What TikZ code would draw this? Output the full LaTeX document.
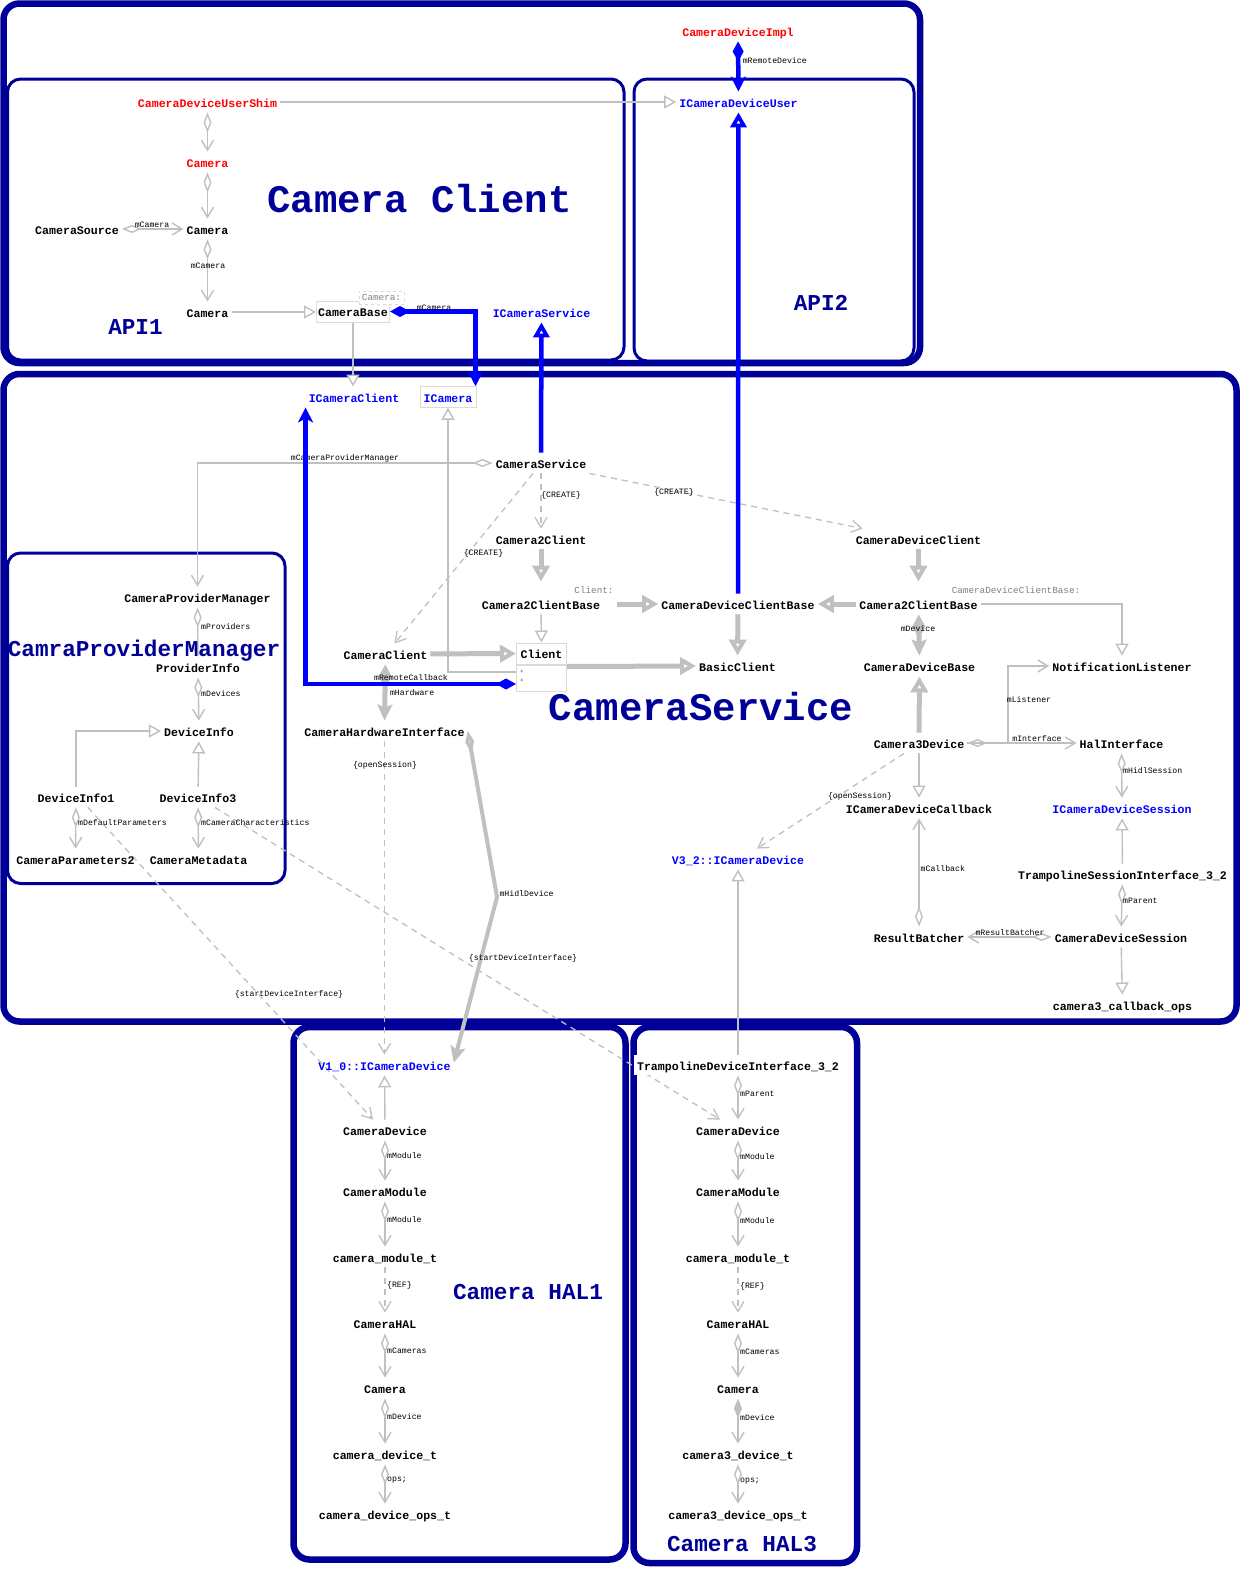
\documentclass[tikz,border=0pt]{standalone}
\usepackage{fontspec}
\newfontfamily\monof{Liberation Mono}
\usetikzlibrary{arrows.meta}
\definecolor{lg}{RGB}{192,192,192}
\definecolor{lbox}{RGB}{218,218,218}
\definecolor{db}{RGB}{0,0,153}
\definecolor{bl}{RGB}{0,0,255}
\definecolor{rd}{RGB}{255,0,0}
\definecolor{tgray}{RGB}{128,128,128}
\pgfdeclarelayer{bg}
\pgfdeclarelayer{edges}
\pgfsetlayers{bg,edges,main}
\tikzset{
  tinh/.tip={Triangle[open,length=12pt,width=13pt,fill=white]},
  tvee/.tip={Straight Barb[length=10pt,width=12pt]},
  todia/.tip={Diamond[open,length=20pt,width=8pt,fill=white]},
  tfdia/.tip={Diamond[length=20pt,width=8pt]},
  tbinh/.tip={Triangle[open,length=15pt,width=16pt,fill=white]},
  tbarr/.tip={Stealth[length=15pt,width=15pt,inset=4pt]},
  tbdia/.tip={Diamond[length=20pt,width=11pt]},
  tginh/.tip={Triangle[open,length=16pt,width=17pt,fill=white]},
  tgarr/.tip={Stealth[length=16pt,width=15pt,inset=3pt]},
  tgdia/.tip={Diamond[length=24pt,width=13pt]},
  tgodia/.tip={Diamond[open,length=22pt,width=9pt,fill=white]},
}
\begin{document}
\begin{tikzpicture}[x=1pt,y=-1pt,
  cls/.style={font=\monof\bfseries\fontsize{11.6}{12}\selectfont, inner xsep=3pt, inner ysep=5pt, text height=10.5pt, text depth=0pt},
  clsr/.style={cls, text=rd},
  clsb/.style={cls, text=bl},
  elbl/.style={font=\monof\fontsize{8.2}{8.2}\selectfont, inner sep=0.5pt, text=black},
  tmpl/.style={font=\monof\fontsize{9.3}{9.3}\selectfont, text=tgray, inner sep=1pt},
  ttlbig/.style={font=\monof\bfseries\fontsize{39}{39}\selectfont, text=db, anchor=base, inner sep=0pt},
  ttl/.style={font=\monof\bfseries\fontsize{22.7}{22.7}\selectfont, text=db, anchor=base, inner sep=0pt},
  contk/.style={draw=db, line width=6.5pt, rounded corners=16pt},
  contn/.style={draw=db, line width=3pt, rounded corners=13pt},
  gl/.style={draw=lg, line width=1.4pt},
  gk/.style={draw=lg, line width=5pt},
  gh/.style={draw=lg, line width=4pt},
  bk/.style={draw=bl, line width=4.5pt},
  gd/.style={draw=lg, line width=1.3pt, dash pattern=on 6pt off 5pt},
  boxed/.style={draw=lbox, line width=1pt, fill=white},
]
\useasboundingbox (0,0) rectangle (1243,1569);
\begin{pgfonlayer}{bg}
\fill[white] (0,0) rectangle (1243,1569);
\draw[contk] (3.5,3.5) rectangle (920,363);
\draw[contn] (7.5,79) rectangle (624,360);
\draw[contn] (634,79) rectangle (914,361);
\draw[contk] (3.5,374) rectangle (1236.5,1021.5);
\draw[contn] (7.5,553) rectangle (285,883.5);
\draw[contk] (293.5,1027) rectangle (625.5,1559.5);
\draw[contk] (633.5,1027) rectangle (857,1563);
\end{pgfonlayer}

% titles
\node[ttlbig] (tCC) at (419.5,212) {Camera Client};
\node[ttlbig] (tCS) at (701,720) {CameraService};
\node[ttl] (tCPM) at (144,656) {CamraProviderManager};
\node[ttl] (tA1) at (135.5,334) {API1};
\node[ttl] (tA2) at (821,310) {API2};
\node[ttl] (tH1) at (528,1299) {Camera HAL1};
\node[ttl] (tH3) at (742,1551) {Camera HAL3};

% nodes: top
\node[clsr] (cdi) at (738,31) {CameraDeviceImpl};
\node[clsb] (icdu) at (738.5,102) {ICameraDeviceUser};
\node[clsr] (shim) at (207.5,102) {CameraDeviceUserShim};
\node[clsr] (camR) at (207.5,162) {Camera};
\node[cls] (camsrc) at (77,229) {CameraSource};
\node[cls] (camA) at (207.5,229) {Camera};
\node[cls] (camB) at (207.5,312) {Camera};
\node[cls, boxed, minimum width=73pt, minimum height=21pt, inner xsep=1pt] (cbase) at (353,311.5) {CameraBase};
\node[tmpl, draw=lbox, dashed, fill=white, minimum width=45pt, minimum height=13pt] (cbaseT) at (381.5,297.5) {Camera:};
\node[clsb] (ics) at (541.5,312) {ICameraService};

% nodes: camera service
\node[clsb] (icc) at (354,397) {ICameraClient};
\node[clsb, boxed, minimum width=56pt, minimum height=20pt] (icam) at (448,397) {ICamera};
\node[cls] (csvc) at (541,463) {CameraService};
\node[cls] (c2c) at (541,539) {Camera2Client};
\node[cls] (cdc) at (918.5,539) {CameraDeviceClient};
\node[cls] (cpm) at (197.5,597) {CameraProviderManager};
\node[cls] (c2cbA) at (541,604) {Camera2ClientBase};
\node[tmpl] (clientT) at (594,590) {Client:};
\node[cls] (cdcb) at (738,604) {CameraDeviceClientBase};
\node[cls] (c2cbB) at (918.5,604) {Camera2ClientBase};
\node[tmpl] (cdcbT) at (1016,590) {CameraDeviceClientBase:};
\node[cls] (pinfo) at (198,667) {ProviderInfo};
\node[cls] (camcl) at (385.5,654) {CameraClient};
\node[cls, boxed, minimum width=50pt, minimum height=21pt] (clientH) at (541.5,653.5) {Client};
\node[boxed, minimum width=50pt, minimum height=26pt, anchor=north, inner sep=0pt] (clientC) at (clientH.south) {};
\node[font=\monof\fontsize{6}{6}\selectfont, text=black!70, inner sep=0pt] (plusA) at (522,672) {+};
\node[font=\monof\fontsize{6}{6}\selectfont, text=black!70, inner sep=0pt] (plusB) at (522,681) {+};
\node[cls] (basic) at (737.5,666) {BasicClient};
\node[cls] (cdbase) at (919.5,666) {CameraDeviceBase};
\node[cls] (notif) at (1122,666) {NotificationListener};
\node[cls] (dinfo) at (199,731) {DeviceInfo};
\node[cls] (chi) at (384.5,731) {CameraHardwareInterface};
\node[cls] (c3d) at (919,743) {Camera3Device};
\node[cls] (hal) at (1121.5,743) {HalInterface};
\node[cls] (di1) at (76,797) {DeviceInfo1};
\node[cls] (di3) at (198,797) {DeviceInfo3};
\node[cls] (icdcb) at (919,808) {ICameraDeviceCallback};
\node[clsb] (icds) at (1122,808) {ICameraDeviceSession};
\node[cls] (cp2) at (75.5,859) {CameraParameters2};
\node[cls] (cmeta) at (198.5,859) {CameraMetadata};
\node[clsb] (v32) at (738,859) {V3\_2::ICameraDevice};
\node[cls] (tsi) at (1122.5,874) {TrampolineSessionInterface\_3\_2};
\node[cls] (rb) at (919,937) {ResultBatcher};
\node[cls] (cds) at (1121,937) {CameraDeviceSession};
\node[cls] (c3cb) at (1122.5,1005) {camera3\_callback\_ops};

% HAL1
\node[clsb] (v10) at (384.5,1065) {V1\_0::ICameraDevice};
\node[cls] (h1dev) at (385,1130) {CameraDevice};
\node[cls] (h1mod) at (385,1191) {CameraModule};
\node[cls] (h1cmt) at (385,1257) {camera\_module\_t};
\node[cls] (h1hal) at (385,1323) {CameraHAL};
\node[cls] (h1cam) at (385,1388) {Camera};
\node[cls] (h1cdt) at (385,1454) {camera\_device\_t};
\node[cls] (h1ops) at (385,1514) {camera\_device\_ops\_t};

% HAL3
\node[cls, fill=white] (tdi) at (738,1065) {TrampolineDeviceInterface\_3\_2};
\node[cls] (h3dev) at (738,1130) {CameraDevice};
\node[cls] (h3mod) at (738,1191) {CameraModule};
\node[cls] (h3cmt) at (738,1257) {camera\_module\_t};
\node[cls] (h3hal) at (738,1323) {CameraHAL};
\node[cls] (h3cam) at (738,1388) {Camera};
\node[cls] (h3cdt) at (738,1454) {camera3\_device\_t};
\node[cls] (h3ops) at (738,1514) {camera3\_device\_ops\_t};

\coordinate (hbend) at (497,897);
\coordinate (mlst) at (1008,666);

\begin{pgfonlayer}{edges}
% top
\draw[gl, -{tinh}] (shim) -- (icdu);
\draw[gl, {todia}-{tvee}] (shim) -- (camR);
\draw[gl, {todia}-{tvee}] (camR) -- (camA);
\draw[gl, {todia}-{tvee}] (camsrc) -- (camA) node[elbl] at (152,225) {mCamera};
\draw[gl, {todia}-{tvee}] (camA) -- (camB) node[elbl] at (208,266) {mCamera};
\draw[gl, -{tinh}] (camB.east) -- (camB.east -| cbase.west);
\draw[gl, -{tinh}] (cbase.south) -- (cbase.south |- icc.north);

% camera service
\draw[gl, {todia}-{tvee}] (csvc.west) -| (cpm.north) node[elbl] at (345,458) {mCameraProviderManager};
\draw[gd, -{tvee}] (csvc) -- (c2c) node[elbl] at (561,495) {\{CREATE\}};
\draw[gd, -{tvee}] ([xshift=-8pt]csvc.south) -- ([xshift=9pt]camcl.north) node[elbl] at (483.5,553) {\{CREATE\}};
\draw[gd, -{tvee}] (csvc.south east) -- ([xshift=10pt]cdc.north west) node[elbl] at (674,492) {\{CREATE\}};
\draw[gk, -{tginh}] (c2c) -- ([yshift=12pt]c2cbA.north);
\draw[gk, -{tginh}] (cdc) -- ([yshift=12pt]c2cbB.north);
\draw[gl, -{tinh}] (c2cbA) -- (clientH);
\draw[gk, -{tginh}] ([xshift=14pt]c2cbA.east) -- (cdcb.west);
\draw[gk, -{tginh}] (c2cbB.west) -- (cdcb.east);
\draw[gk, -{tginh}] (cdcb) -- (basic);
\draw[gk, -{tginh}] ([yshift=-2pt]clientH.south east) -- (basic.west);
\draw[gk, -{tginh}] (camcl) -- (clientH);
\draw[gl, -{tinh}] ([yshift=6pt]clientC.west) -| (icam.south);
\draw[gk, {tgdia}-{tgarr}] (c2cbB) -- (cdbase) node[elbl] at (918,629) {mDevice};
\draw[gl, -{tinh}] (c2cbB.east) -| (notif.north);
\draw[gk, -{tginh}] (c3d) -- (cdbase);
\draw[gl, {todia}-{tvee}] (c3d.east) -- (hal.west) node[elbl] at (1037,739) {mInterface};
\draw[gl, -{tvee}] (c3d.east) -| (mlst) -- (notif.west) node[elbl] at (1029,700) {mListener};
\draw[gl, -{tinh}] (c3d) -- (icdcb);
\draw[gd, -{tvee}] ([xshift=-15pt]c3d.south) -- ([xshift=19pt]v32.north) node[elbl] at (860,796) {\{openSession\}};
\draw[gl, {todia}-{tvee}] (hal) -- (icds) node[elbl, anchor=west] at (1122,771) {mHidlSession};
\draw[gl, -{tinh}] (tsi) -- (icds);
\draw[gl, {todia}-{tvee}] (tsi) -- (cds) node[elbl, anchor=west] at (1122,901) {mParent};
\draw[gl, {todia}-{tvee}] (cds) -- (rb) node[elbl] at (1010,933) {mResultBatcher};
\draw[gl, {todia}-{tvee}] (rb) -- (icdcb) node[elbl, anchor=west] at (919.5,869) {mCallback};
\draw[gl, -{tinh}] (cds) -- (c3cb);
\draw[gl, -{tinh}] (tdi) -- (v32);
\draw[gk, {tgdia}-{tgarr}] (camcl) -- (chi) node[elbl, anchor=west] at (387,693) {mHardware};
\draw[gh, {tgodia}-{tgarr}] (chi.east) -- (hbend) -- ([yshift=-8pt]v10.north east) node[elbl, anchor=west] at (497,894) {mHidlDevice};
\draw[gd, -{tvee}] (chi) -- (v10) node[elbl] at (385,765) {\{openSession\}};
\draw[gd, -{tvee}] ([xshift=12pt]di1.south) -- ([xshift=-12pt]h1dev.north) node[elbl] at (289,994) {\{startDeviceInterface\}};
\draw[gd, -{tvee}] ([xshift=17pt]di3.south) -- ([xshift=-18pt]h3dev.north) node[elbl] at (523,958) {\{startDeviceInterface\}};
\draw[gl, -{tinh}] (di1.north) |- (dinfo.west);
\draw[gl, -{tinh}] (di3) -- (dinfo);
\draw[gl, {todia}-{tvee}] (di1) -- (cp2) node[elbl, anchor=west] at (77,823) {mDefaultParameters};
\draw[gl, {todia}-{tvee}] (di3) -- (cmeta) node[elbl, anchor=west] at (200,823) {mCameraCharacteristics};
\draw[gl, {todia}-{tvee}] (cpm) -- (pinfo) node[elbl, anchor=west] at (200,627) {mProviders};
\draw[gl, {todia}-{tvee}] (pinfo) -- (dinfo) node[elbl, anchor=west] at (200,694) {mDevices};

% HAL1 chain
\draw[gl, -{tinh}] (h1dev) -- (v10);
\draw[gl, {todia}-{tvee}] (h1dev) -- (h1mod) node[elbl, anchor=west] at (386,1156) {mModule};
\draw[gl, {todia}-{tvee}] (h1mod) -- (h1cmt) node[elbl, anchor=west] at (386,1220) {mModule};
\draw[gd, -{tvee}] (h1cmt) -- (h1hal) node[elbl, anchor=west] at (386,1285) {\{REF\}};
\draw[gl, {todia}-{tvee}] (h1hal) -- (h1cam) node[elbl, anchor=west] at (386,1351) {mCameras};
\draw[gl, {todia}-{tvee}] (h1cam) -- (h1cdt) node[elbl, anchor=west] at (386,1417) {mDevice};
\draw[gl, {todia}-{tvee}] (h1cdt) -- (h1ops) node[elbl, anchor=west] at (386,1480) {ops;};

% HAL3 chain
\draw[gl, {todia}-{tvee}] (tdi) -- (h3dev) node[elbl, anchor=west] at (739,1094) {mParent};
\draw[gl, {todia}-{tvee}] (h3dev) -- (h3mod) node[elbl, anchor=west] at (739,1157) {mModule};
\draw[gl, {todia}-{tvee}] (h3mod) -- (h3cmt) node[elbl, anchor=west] at (739,1221) {mModule};
\draw[gd, -{tvee}] (h3cmt) -- (h3hal) node[elbl, anchor=west] at (739,1286) {\{REF\}};
\draw[gl, {todia}-{tvee}] (h3hal) -- (h3cam) node[elbl, anchor=west] at (739,1352) {mCameras};
\draw[gl, {tfdia}-{tvee}] (h3cam) -- (h3cdt) node[elbl, anchor=west] at (739,1418) {mDevice};
\draw[gl, {todia}-{tvee}] (h3cdt) -- (h3ops) node[elbl, anchor=west] at (739,1481) {ops;};

% blue connectors
\draw[bk, {tbdia}-{tbarr}] (cdi) -- (icdu) node[elbl, anchor=west] at (740,61) {mRemoteDevice};
\draw[bk, {tbdia}-{tbarr}] (cbase.east) -| ([xshift=-1pt]icam.north east) node[elbl] at (434,308) {mCamera};
\draw[bk, -{tbinh}] (csvc) -- (ics);
\draw[bk, -{tbinh}] (cdcb) -- (icdu);
\draw[bk, {tbdia}-{tbarr}] ([yshift=-6pt]clientC.west) -| (icc.south west) node[elbl] at (411,678) {mRemoteCallback};
\end{pgfonlayer}
\end{tikzpicture}
\end{document}
